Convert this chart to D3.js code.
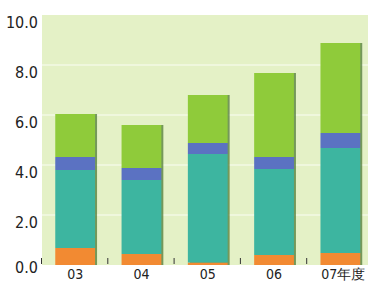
<!DOCTYPE html>
<html>
<head>
<meta charset="utf-8">
<script src="https://cdn.jsdelivr.net/npm/d3@7"></script>
<style>
  body { margin: 0; background: #fff; }
  svg text { font-family: "Liberation Sans Narrow", "DejaVu Sans Condensed", "Liberation Sans", sans-serif; }
</style>
</head>
<body>
<div id="chart"><svg></svg></div>
<script>
var years = ["03", "04", "05", "06", "07年度"];
var orangeVals = [0.68, 0.44, 0.10, 0.40, 0.48];
var tealVals = [3.12, 2.96, 4.34, 3.44, 4.20];
var blueVals = [0.52, 0.48, 0.44, 0.48, 0.60];
var greenVals = [1.72, 1.72, 1.92, 3.36, 3.60];
var yTicks = [0, 2, 4, 6, 8, 10];

var chartWidth = 368, chartHeight = 281;
var svg = d3.select("#chart svg")
    .attr("width", chartWidth)
    .attr("height", chartHeight);

// plot area
var x = d3.scaleBand().domain(years).range([42, 373.5]).paddingInner(0.4).paddingOuter(0.2);
var y = d3.scaleLinear().domain([0, 10]).range([265, 15]);

svg.append("rect")
    .attr("x", 42).attr("y", 15)
    .attr("width", chartWidth - 42).attr("height", 250)
    .attr("fill", "#e4f1c6");

svg.selectAll(".grid")
    .data(yTicks.filter(function(d) { return d > 0 && d < 10; }))
    .enter().append("line")
    .attr("class", "grid")
    .attr("x1", 42).attr("x2", chartWidth)
    .attr("y1", function(d) { return y(d); })
    .attr("y2", function(d) { return y(d); })
    .attr("stroke", "#f3f9e4")
    .attr("stroke-width", 1.5);

// stack the series
var keys = ["orange", "teal", "blue", "green"];
var colors = { orange: "#f28a32", teal: "#3db5a0", blue: "#5b72c2", green: "#8fcb3a" };
var rows = years.map(function(yr, i) {
    return { year: yr, orange: orangeVals[i], teal: tealVals[i], blue: blueVals[i], green: greenVals[i] };
});
var series = d3.stack().keys(keys)(rows);

// shadow on right edge of bars
svg.selectAll(".shadow")
    .data(rows)
    .enter().append("rect")
    .attr("class", "shadow")
    .attr("x", function(d) { return x(d.year) + 2; })
    .attr("y", function(d) { return y(d.orange + d.teal + d.blue + d.green); })
    .attr("width", x.bandwidth())
    .attr("height", function(d) { return y(0) - y(d.orange + d.teal + d.blue + d.green); })
    .attr("fill", "#4f7a36")
    .attr("opacity", 0.75);

svg.selectAll(".layer")
    .data(series)
    .enter().append("g")
    .attr("class", "layer")
    .attr("fill", function(d) { return colors[d.key]; })
    .selectAll("rect")
    .data(function(d) { return d; })
    .enter().append("rect")
    .attr("x", function(d) { return x(d.data.year); })
    .attr("y", function(d) { return y(d[1]); })
    .attr("width", x.bandwidth())
    .attr("height", function(d) { return y(d[0]) - y(d[1]); });

// x ticks at band edges
svg.selectAll(".xtick")
    .data(years)
    .enter().append("line")
    .attr("class", "xtick")
    .attr("x1", function(d) { return x(d) - x.step() * x.paddingInner() / 2 - 0.5; })
    .attr("x2", function(d) { return x(d) - x.step() * x.paddingInner() / 2 - 0.5; })
    .attr("y1", 258).attr("y2", 264)
    .attr("stroke", "#333")
    .attr("stroke-width", 1);

svg.selectAll(".xlabel")
    .data(years)
    .enter().append("text")
    .attr("class", "xlabel")
    .attr("x", function(d, i) { return x(d) + x.bandwidth() / 2 + (i == 4 ? 3 : 0); })
    .attr("y", 279)
    .attr("text-anchor", "middle")
    .attr("font-size", 14)
    .attr("fill", "#222")
    .text(function(d) { return d; });

svg.selectAll(".ylabel")
    .data(yTicks)
    .enter().append("text")
    .attr("class", "ylabel")
    .attr("x", 38)
    .attr("y", function(d) { return y(d) + (d == 0 ? 8 : 13); })
    .attr("text-anchor", "end")
    .attr("font-size", 16)
    .attr("fill", "#222")
    .text(function(d) { return d.toFixed(1); });
</script>
</body>
</html>
